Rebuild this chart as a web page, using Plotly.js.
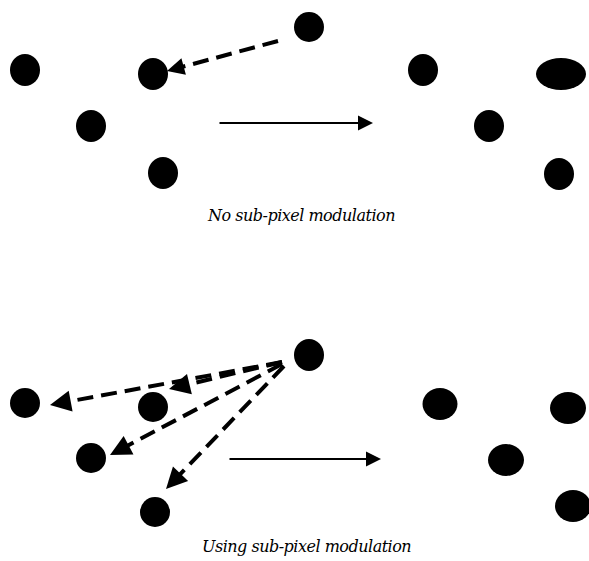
<!DOCTYPE html>
<html>
<head>
<meta charset="utf-8">
<script src="https://cdn.plot.ly/plotly-3.0.1.min.js"></script>
<style>html,body{margin:0;padding:0;background:#fff;}#chart{width:589px;height:561px;}
.annotation-text{letter-spacing:-0.5px;}</style>
</head>
<body>
<div id="chart"></div>
<script>
// Dot centres and extents (diagram units = pixels of the original figure)
const dotX = [25, 153, 91, 163, 309, 423, 561, 489, 559,
              25, 153, 91, 155, 309, 440, 568, 506, 573];
const dotY = [70, 74, 126, 173, 27, 70, 74, 126, 174,
              403, 407, 458, 512, 355, 404, 408, 460, 506];
const dotW = [30, 30, 30, 30, 30, 30, 50, 30, 30,
              30, 30, 30, 30, 30, 35, 36, 36, 36];
const dotH = [32, 32, 32, 32, 30, 32, 32, 32, 32,
              30, 30, 30, 30, 32, 32, 32, 32, 32];

// Dashed motion vectors (from -> to)
const vecFromX = [278, 282, 282, 282, 284];
const vecFromY = [41, 362, 362, 364, 366];
const vecToX   = [167, 50, 169, 110, 166];
const vecToY   = [71, 405, 389, 455, 489];

// Solid transition arrows
const transFromX = [218, 228];
const transToX   = [373, 381];
const transY     = [123, 459];

// Captions
const captions = ["No sub-pixel modulation", "Using sub-pixel modulation"];
const captionX = [301, 306];
const captionY = [215, 546];

const shapes = dotX.map((x, i) => ({
  type: 'circle', xref: 'x', yref: 'y',
  x0: x - dotW[i] / 2, x1: x + dotW[i] / 2,
  y0: dotY[i] - dotH[i] / 2, y1: dotY[i] + dotH[i] / 2,
  fillcolor: '#000', line: {width: 0}
}));

const traces = [];
const annotations = [];
vecFromX.forEach((fx, i) => {
  const fy = vecFromY[i], tx = vecToX[i], ty = vecToY[i];
  const dx = tx - fx, dy = ty - fy, L = Math.hypot(dx, dy);
  const ux = dx / L, uy = dy / L;
  const headBack = 14;
  traces.push({
    type: 'scatter', mode: 'lines', hoverinfo: 'skip', showlegend: false,
    x: [fx, tx - ux * headBack], y: [fy, ty - uy * headBack],
    line: {color: '#000', width: 4, dash: '16px,8px'}
  });
  annotations.push({
    x: tx, y: ty, xref: 'x', yref: 'y', axref: 'x', ayref: 'y',
    ax: tx - ux * 16, ay: ty - uy * 16, text: '', showarrow: true,
    arrowhead: 2, arrowwidth: 3, arrowsize: i === 0 ? 1.15 : 1.4, arrowcolor: '#000'
  });
});
transFromX.forEach((fx, i) => {
  annotations.push({
    x: transToX[i], y: transY[i], xref: 'x', yref: 'y', axref: 'x', ayref: 'y',
    ax: fx, ay: transY[i], text: '', showarrow: true,
    arrowhead: 2, arrowwidth: 2, arrowsize: 1.5, arrowcolor: '#000'
  });
});
captions.forEach((t, i) => {
  annotations.push({
    x: captionX[i], y: captionY[i], xref: 'x', yref: 'y', showarrow: false,
    text: t, xanchor: 'center', yanchor: 'middle',
    font: {family: 'DejaVu Serif', style: 'italic', size: 16, color: '#000'}
  });
});

const layout = {
  width: 589, height: 561,
  margin: {l: 0, r: 0, t: 0, b: 0},
  paper_bgcolor: '#fff', plot_bgcolor: '#fff',
  xaxis: {range: [0, 589], visible: false, fixedrange: true},
  yaxis: {range: [561, 0], visible: false, fixedrange: true},
  shapes: shapes, annotations: annotations, showlegend: false
};
Plotly.newPlot('chart', traces, layout, {staticPlot: true, displayModeBar: false});
</script>
</body>
</html>
